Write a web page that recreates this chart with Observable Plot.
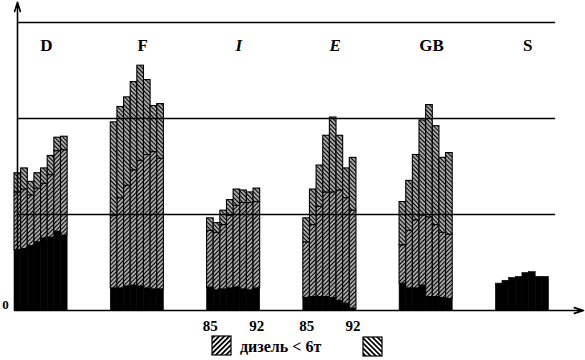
<!DOCTYPE html>
<html><head><meta charset="utf-8">
<script src="https://cdn.jsdelivr.net/npm/d3@7"></script>
<script src="https://cdn.jsdelivr.net/npm/@observablehq/plot@0.6"></script>
<style>
body{margin:0;background:#fff;width:585px;height:360px;overflow:hidden;}
#chart svg{display:block;}
#legend{position:relative;height:26px;}
</style></head><body>
<div id="chart"></div>
<div id="legend"></div>
<script>
// ---- data (units: one gridline step = 1) ----
const countries = ["D", "F", "I", "E", "GB", "S"];
const italicCountries = ["I", "E"];
const years = ["85", "86", "87", "88", "89", "90", "91", "92"];
// black base segment
const blackPart = [
  [0.63, 0.64, 0.67, 0.71, 0.75, 0.76, 0.82, 0.78],
  [0.23, 0.23, 0.25, 0.26, 0.25, 0.23, 0.22, 0.22],
  [0.24, 0.21, 0.22, 0.23, 0.24, 0.22, 0.21, 0.23],
  [0.13, 0.14, 0.14, 0.14, 0.13, 0.10, 0.07, 0.02],
  [0.28, 0.23, 0.23, 0.26, 0.14, 0.14, 0.13, 0.12],
  [0.28, 0.31, 0.34, 0.35, 0.39, 0.40, 0.35, 0.35]
];
// "//" hatched segment: дизель < 6т
const dieselUnder6t = [
  [0.60, 0.62, 0.53, 0.56, 0.57, 0.65, 0.84, 0.89],
  [0.76, 0.94, 1.05, 1.20, 1.31, 1.39, 1.43, 1.36],
  [0.59, 0.60, 0.67, 0.76, 0.85, 0.90, 0.91, 0.90],
  [0.58, 0.75, 0.94, 1.09, 1.10, 1.15, 1.10, 1.02],
  [0.40, 0.60, 0.71, 0.73, 0.83, 0.75, 0.68, 0.67],
  [0, 0, 0, 0, 0, 0, 0, 0]
];
// "\\" hatched segment
const dieselOver6t = [
  [0.20, 0.22, 0.14, 0.16, 0.16, 0.20, 0.14, 0.14],
  [0.97, 0.95, 0.92, 0.92, 0.99, 0.78, 0.48, 0.57],
  [0.13, 0.10, 0.15, 0.16, 0.17, 0.13, 0.11, 0.14],
  [0.25, 0.37, 0.43, 0.59, 0.78, 0.57, 0.31, 0.55],
  [0.45, 0.52, 0.68, 0.99, 1.17, 1.03, 0.78, 0.85],
  [0, 0, 0, 0, 0, 0, 0, 0]
];
const gridValues = [1, 2, 3];
const yTickLabels = [0];
const tickCountries = ["I", "E"];
const tickYears = ["85", "92"];
const legendLabels = ["дизель < 6т", ""];

// ---- layout ----
const GROUP_STEP = 14.5;          // slots per country group (8 bars + gap)
const X_DOMAIN = [0.45, 86];
const SERIF = "Liberation Serif, Times New Roman, serif";

const rows = [];
countries.forEach((c, i) => years.forEach((yr, j) => {
  const b = blackPart[i][j], lo = dieselUnder6t[i][j], hi = dieselOver6t[i][j];
  const x1 = i * GROUP_STEP + j, x2 = x1 + 1;
  rows.push({country: c, year: yr, x1, x2, layer: "black", y1: 0, y2: b});
  if (lo > 0) rows.push({country: c, year: yr, x1, x2, layer: "lo", y1: b, y2: b + lo});
  if (hi > 0) rows.push({country: c, year: yr, x1, x2, layer: "hi", y1: b + lo, y2: b + lo + hi});
}));
const gridEnd = d3.max(rows, d => d.x2) + 1;
const yearTicks = rows.filter(d => d.layer === "black" && tickCountries.includes(d.country) && tickYears.includes(d.year));
const labelRows = countries.map((c, i) => ({c, x: i * GROUP_STEP + 4.8}));

const svg = Plot.plot({
  width: 585, height: 334,
  marginLeft: 17, marginRight: 0, marginTop: 22, marginBottom: 24,
  x: {domain: X_DOMAIN, axis: null},
  y: {domain: [0, 3], axis: null},
  marks: [
    Plot.rect(rows.filter(d => d.layer === "black"), {x1: "x1", x2: "x2", y1: "y1", y2: "y2", fill: "black", stroke: "black", strokeWidth: 0.6}),
    Plot.rect(rows.filter(d => d.layer === "lo"), {x1: "x1", x2: "x2", y1: "y1", y2: "y2", fill: "url(#hatchFwd)", stroke: "black", strokeWidth: 1.1}),
    Plot.rect(rows.filter(d => d.layer === "hi"), {x1: "x1", x2: "x2", y1: "y1", y2: "y2", fill: "url(#hatchBack)", stroke: "black", strokeWidth: 1.1}),
    Plot.ruleY(gridValues, {y: d => d, x1: X_DOMAIN[0], x2: gridEnd, stroke: "black", strokeWidth: 1.6}),
    Plot.arrow([0], {x1: 0, x2: X_DOMAIN[1] - 0.3, y1: 0, y2: 0, stroke: "black", strokeWidth: 1.6, headLength: 9, headAngle: 35}),
    Plot.arrow([0], {x1: X_DOMAIN[0], x2: X_DOMAIN[0], y1: 0, y2: 3.21, stroke: "black", strokeWidth: 1.6, headLength: 9, headAngle: 35}),
    Plot.text(labelRows.filter(d => !italicCountries.includes(d.c)), {x: "x", y: 2.76, text: "c", fontSize: 17, fontWeight: "bold", fontFamily: SERIF, fill: "black"}),
    Plot.text(labelRows.filter(d => italicCountries.includes(d.c)), {x: "x", y: 2.76, text: "c", fontSize: 17, fontWeight: "bold", fontStyle: "italic", fontFamily: SERIF, fill: "black"}),
    Plot.text(yearTicks, {x: d => d.x1 + 0.5, y: 0, dy: 16, text: "year", fontSize: 15, fontWeight: "bold", fontFamily: SERIF, fill: "black"}),
    Plot.text(yTickLabels, {x: X_DOMAIN[0], y: d => d, dx: -12, dy: -6, text: d => String(d), fontSize: 13, fontWeight: "bold", fontFamily: SERIF, fill: "black"})
  ]
});

function addHatch(defs, id, angle, size, sw) {
  const p = defs.append("pattern").attr("id", id).attr("patternUnits", "userSpaceOnUse")
    .attr("width", size).attr("height", size).attr("patternTransform", `rotate(${angle})`);
  p.append("rect").attr("width", size).attr("height", size).attr("fill", "white");
  p.append("line").attr("x1", size / 2).attr("y1", -1).attr("x2", size / 2).attr("y2", size + 1)
    .attr("stroke", "black").attr("stroke-width", sw);
}
const defs = d3.select(svg).insert("defs", ":first-child");
addHatch(defs, "hatchFwd", 45, 3, 1.7);
addHatch(defs, "hatchBack", -45, 3, 1.7);
document.getElementById("chart").appendChild(svg);

// legend
const lg = d3.select("#legend").append("svg").attr("width", 585).attr("height", 26);
const ldefs = lg.append("defs");
addHatch(ldefs, "lgFwd", 45, 3.6, 1.8);
addHatch(ldefs, "lgBack", -45, 3.6, 1.8);
lg.append("rect").attr("x", 212).attr("y", 2).attr("width", 19).attr("height", 19)
  .attr("fill", "url(#lgFwd)").attr("stroke", "black").attr("stroke-width", 1.2);
lg.append("text").attr("x", 240).attr("y", 18).attr("font-family", SERIF).attr("font-weight", "bold")
  .attr("font-size", 16).text(legendLabels[0]);
lg.append("rect").attr("x", 363).attr("y", 3).attr("width", 19).attr("height", 19)
  .attr("fill", "url(#lgBack)").attr("stroke", "black").attr("stroke-width", 1.2);
lg.append("text").attr("x", 390).attr("y", 18).attr("font-family", SERIF).attr("font-weight", "bold")
  .attr("font-size", 16).text(legendLabels[1]);
</script>
</body></html>
